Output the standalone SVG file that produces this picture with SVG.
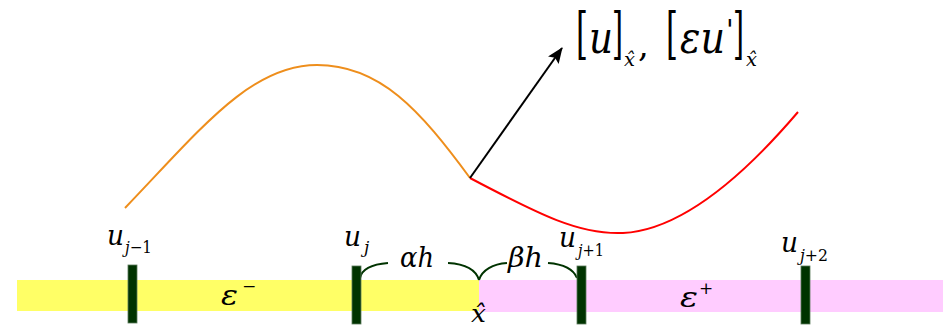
<svg xmlns="http://www.w3.org/2000/svg" width="943" height="326" viewBox="0 0 943 326">
<defs>
<marker id="ah" markerWidth="16" markerHeight="13" refX="15" refY="6.5" orient="auto" markerUnits="userSpaceOnUse" viewBox="0 0 16 13">
<path d="M0,0 L16,6.5 L0,13 L3,6.5 z" fill="#000"/>
</marker>
<style>
text{font-family:"DejaVu Serif","Liberation Serif",serif;fill:#000}
.i{font-style:italic}
.bar{fill:#003300;stroke:#5a7a5a;stroke-width:0.8}
.brace{fill:none;stroke:#003300;stroke-width:2}
</style>
</defs>
<rect x="17" y="280" width="462" height="31" fill="#FFFF66"/>
<rect x="479" y="280" width="464" height="32" fill="#FFCCFF"/>
<g id="curves">
<path d="M125,208 C200,130 250,65 317,65 C380,65 420,110 470,178" fill="none" stroke="#EE8E1C" stroke-width="2"/>
<path d="M470,178 C540,215 580,235 623,233 C680,230 740,180 798,112" fill="none" stroke="#FF0000" stroke-width="2"/>
</g>
<g id="connectors">
<line x1="470" y1="178" x2="562" y2="48" stroke="#000" stroke-width="2" marker-end="url(#ah)"/>
<path class="brace" d="M360,278 C362,268 375,264 388,263"/>
<path class="brace" d="M448,263 C465,264 476,270 479,280"/>
<path class="brace" d="M479,280 C482,270 493,264 507,263"/>
<path class="brace" d="M548,263 C562,264 573,268 577,278"/>
</g>
<g id="jump-label">
<text x="576" y="53" font-size="56" textLength="12" lengthAdjust="spacingAndGlyphs">[</text>
<text class="i" x="589" y="53" font-size="44" textLength="24" lengthAdjust="spacingAndGlyphs">u</text>
<text x="612" y="53" font-size="56" textLength="11" lengthAdjust="spacingAndGlyphs">]</text>
<text class="i" x="624" y="66" font-size="19" textLength="11" lengthAdjust="spacingAndGlyphs">x̂</text>
<text x="638" y="57" font-size="34">,</text>
<text x="666" y="53" font-size="56" textLength="12" lengthAdjust="spacingAndGlyphs">[</text>
<text class="i" x="680" y="53" font-size="44" textLength="45" lengthAdjust="spacingAndGlyphs">εu</text>
<text x="726" y="40" font-size="28">'</text>
<text x="733" y="53" font-size="56" textLength="11" lengthAdjust="spacingAndGlyphs">]</text>
<text class="i" x="746" y="66" font-size="19" textLength="11" lengthAdjust="spacingAndGlyphs">x̂</text>
</g>
<g id="node-j-1">
<rect class="bar" x="128" y="265" width="9" height="58"/>
<text class="i" x="107" y="245" font-size="28" textLength="17" lengthAdjust="spacingAndGlyphs">u</text>
<text class="i" x="125" y="253" font-size="17" textLength="27" lengthAdjust="spacingAndGlyphs">j<tspan font-style="normal">−1</tspan></text>
</g>
<g id="node-j">
<rect class="bar" x="352" y="266" width="9" height="58"/>
<text class="i" x="344" y="246" font-size="28" textLength="17" lengthAdjust="spacingAndGlyphs">u</text>
<text class="i" x="364" y="253" font-size="17">j</text>
</g>
<g id="node-j+1">
<rect class="bar" x="577" y="266" width="9" height="58"/>
<text class="i" x="559" y="247" font-size="28" textLength="17" lengthAdjust="spacingAndGlyphs">u</text>
<text class="i" x="578" y="256" font-size="17" textLength="26" lengthAdjust="spacingAndGlyphs">j<tspan font-style="normal">+1</tspan></text>
</g>
<g id="node-j+2">
<rect class="bar" x="801" y="266" width="9" height="58"/>
<text class="i" x="781" y="252" font-size="28" textLength="17" lengthAdjust="spacingAndGlyphs">u</text>
<text class="i" x="800" y="261" font-size="17" textLength="28" lengthAdjust="spacingAndGlyphs">j<tspan font-style="normal">+2</tspan></text>
</g>
<g id="labels">
<text class="i" x="400" y="267" font-size="28" textLength="34" lengthAdjust="spacingAndGlyphs">αh</text>
<text class="i" x="508" y="267" font-size="28" textLength="35" lengthAdjust="spacingAndGlyphs">βh</text>
<text class="i" x="221" y="305" font-size="28" textLength="17" lengthAdjust="spacingAndGlyphs">ε</text>
<text x="242" y="292" font-size="17">−</text>
<text class="i" x="680" y="307" font-size="28" textLength="18" lengthAdjust="spacingAndGlyphs">ε</text>
<text x="699" y="294" font-size="17">+</text>
<text class="i" x="471" y="322" font-size="24" textLength="15" lengthAdjust="spacingAndGlyphs">x̂</text>
</g>
</svg>
